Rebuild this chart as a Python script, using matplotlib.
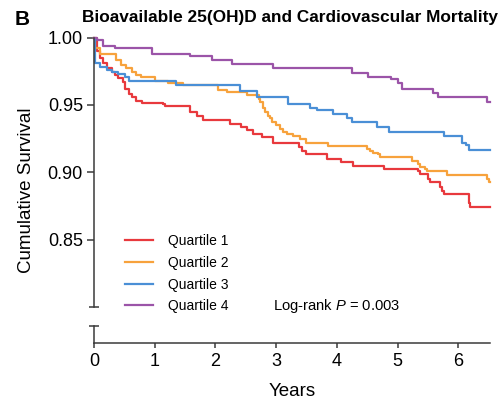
import matplotlib
matplotlib.use("Agg")
import matplotlib.pyplot as plt

plt.rcParams['font.family'] = 'Liberation Sans'
plt.rcParams['mathtext.fontset'] = 'custom'
plt.rcParams['mathtext.rm'] = 'Liberation Sans'
plt.rcParams['mathtext.it'] = 'Liberation Sans:italic'

# Kaplan-Meier steps per quartile of bioavailable 25(OH)D (years, survival)
t_q1 = [0, 0.05, 0.10, 0.15, 0.21, 0.29, 0.35, 0.40, 0.48, 0.51,
        0.57, 0.62, 0.70, 0.79, 1.14, 1.17, 1.58, 1.69, 1.80, 2.24,
        2.42, 2.52, 2.62, 2.77, 2.95, 3.38, 3.42, 3.50, 3.83, 4.07,
        4.27, 4.77, 5.34, 5.37, 5.51, 5.54, 5.70, 5.73, 5.76, 6.17,
        6.19, 6.52]
s_q1 = [1.000, 0.990, 0.9845, 0.981, 0.977, 0.9745, 0.972, 0.9696, 0.967, 0.962,
        0.958, 0.956, 0.953, 0.9514, 0.9504, 0.949, 0.9446, 0.942, 0.939, 0.936,
        0.9335, 0.931, 0.9285, 0.926, 0.922, 0.9185, 0.916, 0.9136, 0.910, 0.9073,
        0.905, 0.9024, 0.901, 0.8987, 0.895, 0.8924, 0.8887, 0.886, 0.8838, 0.8775,
        0.874, 0.874]

t_q2 = [0, 0.02, 0.10, 0.37, 0.45, 0.53, 0.62, 0.70, 0.77, 1.00,
        1.22, 1.47, 2.05, 2.19, 2.52, 2.71, 2.74, 2.78, 2.82, 2.86,
        2.90, 2.94, 2.99, 3.06, 3.12, 3.18, 3.28, 3.40, 3.50, 3.85,
        4.49, 4.55, 4.60, 4.68, 4.71, 5.24, 5.34, 5.37, 5.45, 5.49,
        5.82, 6.47, 6.50, 6.52]
s_q2 = [1.000, 0.992, 0.988, 0.983, 0.9795, 0.977, 0.9745, 0.972, 0.9708, 0.968,
        0.966, 0.9646, 0.9614, 0.9596, 0.957, 0.9546, 0.952, 0.948, 0.945, 0.942,
        0.940, 0.937, 0.935, 0.932, 0.930, 0.9285, 0.927, 0.9248, 0.922, 0.9195,
        0.917, 0.916, 0.9145, 0.9136, 0.911, 0.9085, 0.906, 0.904, 0.9023, 0.901,
        0.898, 0.895, 0.8925, 0.8925]

t_q3 = [0, 0.01, 0.10, 0.21, 0.29, 0.40, 0.51, 0.57, 1.35, 2.41,
        2.68, 3.20, 3.56, 3.67, 3.94, 4.17, 4.25, 4.66, 4.86, 5.77,
        6.06, 6.12, 6.17, 6.52]
s_q3 = [1.000, 0.981, 0.978, 0.976, 0.9745, 0.973, 0.971, 0.968, 0.9646, 0.960,
        0.956, 0.951, 0.948, 0.946, 0.9434, 0.9405, 0.937, 0.9335, 0.930, 0.927,
        0.922, 0.920, 0.9166, 0.9166]

t_q4 = [0, 0.05, 0.15, 0.35, 0.95, 1.58, 1.94, 2.27, 2.95, 4.25,
        4.51, 4.89, 5.01, 5.07, 5.58, 5.67, 6.48, 6.52]
s_q4 = [1.000, 0.998, 0.994, 0.992, 0.988, 0.986, 0.983, 0.980, 0.977, 0.974,
        0.971, 0.969, 0.966, 0.962, 0.959, 0.956, 0.952, 0.952]

labels = ["Quartile 1", "Quartile 2", "Quartile 3", "Quartile 4"]
colors = ["#e8393d", "#f7a23c", "#4a8fd6", "#9b54a8"]
yticks = [0.85, 0.90, 0.95, 1.00]
xticks = [0, 1, 2, 3, 4, 5, 6]

W, H = 502, 399
fig = plt.figure(figsize=(W / 100, H / 100), dpi=100)

def px(x0, y0, x1, y1):
    # pixel box -> figure fraction [left, bottom, width, height]
    return [x0 / W, 1 - y1 / H, (x1 - x0) / W, (y1 - y0) / H]

spine_c = "#3a3a3a"
ax = fig.add_axes(px(94, 37.5, 489.8, 307))
axb = fig.add_axes(px(94, 326, 489.8, 343))

for t, s, c, lab in zip([t_q1, t_q2, t_q3, t_q4], [s_q1, s_q2, s_q3, s_q4], colors, labels):
    ax.step(t, s, where="post", color=c, lw=1.6, label=lab, clip_on=False)

ax.set_xlim(0, 6.52)
ax.set_ylim(0.80, 1.00)
ax.set_xticks([])
ax.set_yticks(yticks)
ax.set_yticklabels(["%.2f" % v for v in yticks])
ax.set_yticks([0.80], minor=True)
ax.tick_params(axis="y", which="major", direction="out", length=5, width=1.1,
               color=spine_c, labelsize=13, pad=3)
ax.tick_params(axis="y", which="minor", direction="inout", length=7.5, width=1.1,
               color=spine_c)
for sp in ["top", "right", "bottom"]:
    ax.spines[sp].set_visible(False)
ax.spines["left"].set_color(spine_c)
ax.spines["left"].set_linewidth(1.1)

# short lower piece of the broken y axis
axb.set_xlim(0, 6.52)
axb.set_ylim(0, 1)
axb.set_yticks([1])
axb.set_yticklabels([])
axb.set_xticks(xticks)
axb.tick_params(axis="y", direction="inout", length=7.5, width=1.1, color=spine_c)
axb.tick_params(axis="x", direction="out", length=3.5, width=1.1, color=spine_c,
                labelsize=13, pad=4)
for sp in ["top", "right"]:
    axb.spines[sp].set_visible(False)
for sp in ["left", "bottom"]:
    axb.spines[sp].set_color(spine_c)
    axb.spines[sp].set_linewidth(1.1)
axb.patch.set_alpha(0)

ax.legend(loc="upper left", bbox_to_anchor=(125 / W, 1 - 234 / H),
          bbox_transform=fig.transFigure, frameon=False, borderpad=0,
          borderaxespad=0, handlelength=2.0, handletextpad=1.1,
          labelspacing=0.56, fontsize=10)

fig.text(272.7 / W, 1 - 306 / H, "Log-rank $P$ = 0.003", fontsize=10.6, va="center")
fig.text(292 / W, 1 - 396 / H, "Years", fontsize=13.5, ha="center", va="baseline")
fig.text(27 / W, 1 - 190 / H, "Cumulative Survival", fontsize=13.5, rotation=90,
         ha="center", va="center")
fig.text(290 / W, 1 - 21.7 / H, "Bioavailable 25(OH)D and Cardiovascular Mortality",
         fontsize=12.4, fontweight="bold", ha="center", va="baseline")
fig.text(15 / W, 1 - 25 / H, "B", fontsize=15, fontweight="bold", va="baseline")

fig.savefig("out.png", dpi=100)
